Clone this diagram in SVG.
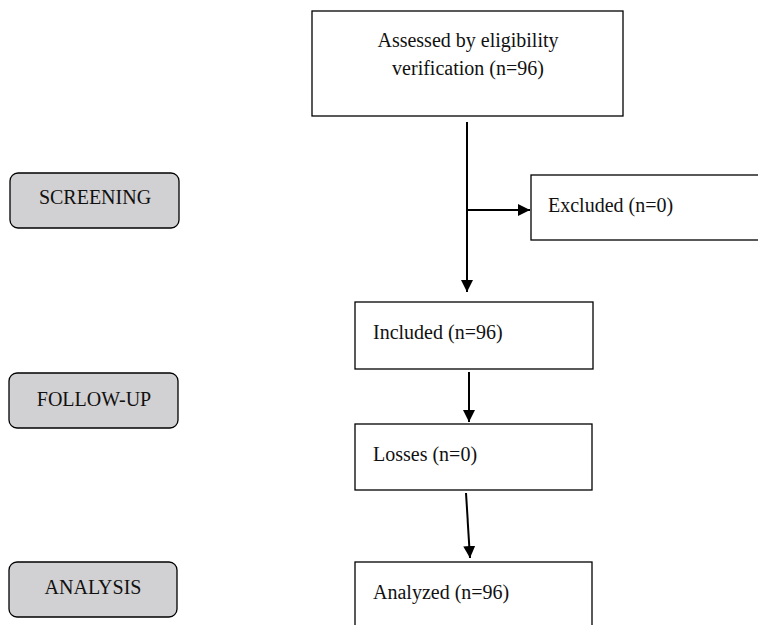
<svg xmlns="http://www.w3.org/2000/svg" width="758" height="625" viewBox="0 0 758 625">
<defs>
<style>
.box{fill:#fff;stroke:#000;stroke-width:1.3}
.tag{fill:#d1d0d2;stroke:#000;stroke-width:1.3}
text{font-family:"Liberation Serif","Times New Roman",serif;font-size:20px;fill:#111}
.c{text-anchor:middle}
.edge{stroke:#000;stroke-width:2;fill:none}
</style>
<marker id="ah" viewBox="0 0 10 10" refX="10" refY="5" markerWidth="6" markerHeight="7" markerUnits="strokeWidth" orient="auto">
<path d="M0,0 L10,5 L0,10 Z" fill="#000"/>
</marker>
</defs>
<rect width="758" height="625" fill="#fff"/>
<g id="screening"><rect class="tag" x="10" y="173" width="169" height="55" rx="8"/><text class="c" x="95" y="204">SCREENING</text></g>
<g id="followup"><rect class="tag" x="9" y="373" width="169" height="55" rx="8"/><text class="c" x="94" y="406">FOLLOW-UP</text></g>
<g id="analysis"><rect class="tag" x="9" y="562" width="168" height="55" rx="8"/><text class="c" x="93" y="594">ANALYSIS</text></g>
<g id="assessed"><rect class="box" x="312" y="11" width="311" height="105"/><text class="c" x="468" y="47">Assessed by eligibility</text><text class="c" x="468" y="75">verification (n=96)</text></g>
<g id="excluded"><rect class="box" x="531" y="175" width="240" height="65"/><text x="548" y="212">Excluded (n=0)</text></g>
<g id="included"><rect class="box" x="355" y="302" width="238" height="67"/><text x="373" y="339">Included (n=96)</text></g>
<g id="losses"><rect class="box" x="355" y="424" width="237" height="66"/><text x="373" y="461">Losses (n=0)</text></g>
<g id="analyzed"><rect class="box" x="355" y="562" width="237" height="80"/><text x="373" y="599">Analyzed (n=96)</text></g>
<g id="connectors">
<line class="edge" x1="467" y1="122" x2="467" y2="292" marker-end="url(#ah)"/>
<line class="edge" x1="467" y1="210" x2="530" y2="210" marker-end="url(#ah)"/>
<line class="edge" x1="469" y1="372" x2="469" y2="422" marker-end="url(#ah)"/>
<line class="edge" x1="466" y1="493" x2="470" y2="558" marker-end="url(#ah)"/>
</g>
</svg>
